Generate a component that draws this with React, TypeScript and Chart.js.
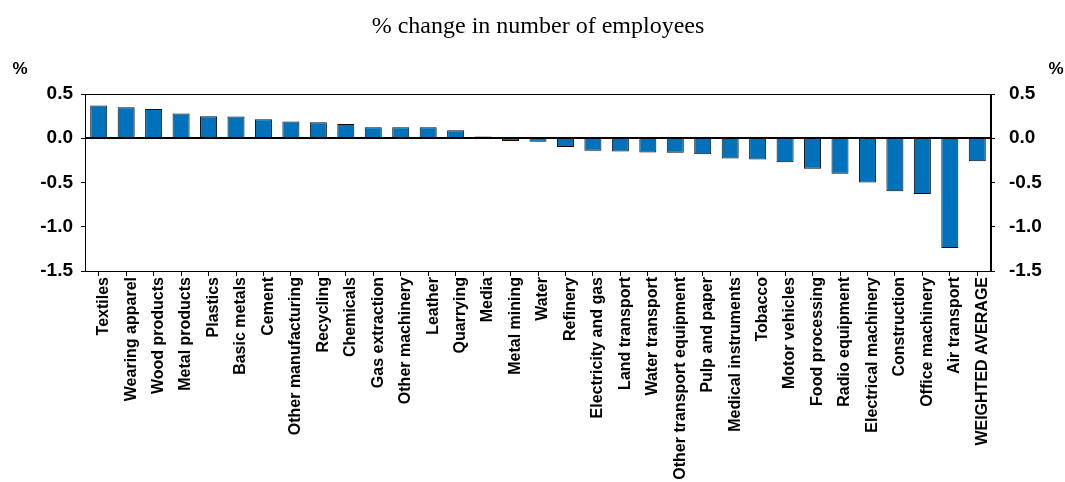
import React, { useEffect, useRef } from "react";
import { Chart, registerables } from "chart.js";

Chart.register(...registerables);

const categories = [
  "Textiles", "Wearing apparel", "Wood products", "Metal products", "Plastics",
  "Basic metals", "Cement", "Other manufacturing", "Recycling", "Chemicals",
  "Gas extraction", "Other machinery", "Leather", "Quarrying", "Media",
  "Metal mining", "Water", "Refinery", "Electricity and gas", "Land transport",
  "Water transport", "Other transport equipment", "Pulp and paper", "Medical instruments", "Tobacco",
  "Motor vehicles", "Food processing", "Radio equipment", "Electrical machinery", "Construction",
  "Office machinery", "Air transport", "WEIGHTED AVERAGE",
];

const changeValues = [
  0.37, 0.35, 0.33, 0.28, 0.25,
  0.245, 0.215, 0.19, 0.18, 0.16,
  0.125, 0.125, 0.125, 0.09, 0.02,
  -0.03, -0.04, -0.1, -0.14, -0.15,
  -0.16, -0.165, -0.18, -0.23, -0.24,
  -0.27, -0.345, -0.4, -0.5, -0.6,
  -0.63, -1.24, -0.26,
];

const yMin = -1.5;
const yMax = 0.5;
const yStep = 0.5;

const titleText = "% change in number of employees";
const unitText = "%";

const SANS = "'Liberation Sans', Arial, sans-serif";
const SERIF = "'Liberation Serif', 'Times New Roman', serif";

const decorPlugin = {
  id: "decor",
  afterDatasetsDraw(chart: any) {
    const { ctx, chartArea } = chart;
    const y = chart.scales.y;
    ctx.save();
    ctx.strokeStyle = "#000";
    ctx.lineWidth = 1;
    ctx.strokeRect(chartArea.left + 0.5, chartArea.top + 0.5, chartArea.right - chartArea.left - 1, chartArea.bottom - chartArea.top);
    const zy = Math.round(y.getPixelForValue(0));
    ctx.lineWidth = 2;
    ctx.beginPath();
    ctx.moveTo(chartArea.left, zy);
    ctx.lineTo(chartArea.right, zy);
    ctx.stroke();
    ctx.restore();
  },
  afterDraw(chart: any) {
    const { ctx } = chart;
    ctx.save();
    ctx.fillStyle = "#000";
    ctx.font = `24px ${SERIF}`;
    ctx.textAlign = "center";
    ctx.textBaseline = "alphabetic";
    ctx.fillText(titleText, 538, 33);
    ctx.font = `bold 17px ${SANS}`;
    ctx.textBaseline = "middle";
    ctx.fillText(unitText, 20, 69);
    ctx.fillText(unitText, 1056, 69);
    ctx.restore();
  },
};

export default function App() {
  const ref = useRef<HTMLCanvasElement | null>(null);
  useEffect(() => {
    if (!ref.current) return;
    const tickFont = { family: SANS, size: 19, weight: "bold" as const };
    const yCommon = {
      min: yMin,
      max: yMax,
      ticks: {
        stepSize: yStep,
        color: "#000",
        font: tickFont,
        callback: (v: any) => Number(v).toFixed(1),
      },
      grid: { drawOnChartArea: false, color: "#000", tickLength: 4 },
      border: { color: "#000", width: 1 },
    };
    const chart = new Chart(ref.current, {
      type: "bar",
      data: {
        labels: categories,
        datasets: [
          {
            data: changeValues,
            backgroundColor: "#0072BB",
            borderColor: "#0a0a0a",
            borderWidth: 1,
            categoryPercentage: 1,
            barPercentage: 0.62,
            yAxisID: "y",
          },
        ],
      },
      options: {
        responsive: false,
        animation: false,
        devicePixelRatio: 1,
        layout: { padding: { top: 94, left: 0, right: 0, bottom: 0 } },
        plugins: { legend: { display: false }, tooltip: { enabled: false }, title: { display: false } },
        scales: {
          x: {
            grid: { drawOnChartArea: false, color: "#000", tickLength: 5, offset: false },
            border: { color: "#000", width: 1 },
            ticks: {
              color: "#000",
              font: { family: SANS, size: 16, weight: "bold" },
              minRotation: 90,
              maxRotation: 90,
              autoSkip: false,
              padding: 1,
              labelOffset: 5,
            },
            afterFit(scale: any) { scale.height = 211; },
          },
          y: {
            ...yCommon,
            position: "left",
            ticks: { ...yCommon.ticks, padding: 8 },
            afterFit(scale: any) { scale.width = 85; },
          },
          y2: {
            ...yCommon,
            position: "right",
            ticks: { ...yCommon.ticks, padding: 14 },
            afterFit(scale: any) { scale.width = 74; },
          },
        },
      },
      plugins: [decorPlugin],
    });
    return () => chart.destroy();
  }, []);
  return (
    <div style={{ position: "fixed", left: 0, top: 0, width: 1065, height: 482, background: "#fff" }}>
      <canvas ref={ref} width={1065} height={482} style={{ width: 1065, height: 482 }} />
    </div>
  );
}
